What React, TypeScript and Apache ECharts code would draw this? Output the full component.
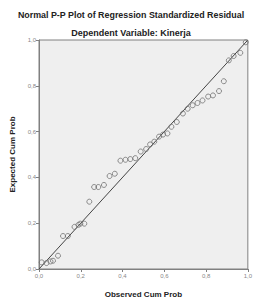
import React, { useEffect, useRef } from "react";
import * as echarts from "echarts";

const titleText = "Normal P-P Plot of Regression Standardized Residual";
const subtitleText = "Dependent Variable: Kinerja";
const xAxisName = "Observed Cum Prob";
const yAxisName = "Expected Cum Prob";
const tickValues = [0, 0.2, 0.4, 0.6, 0.8, 1.0];

const observedCumProb = [
  0.013, 0.036, 0.055, 0.067, 0.091, 0.115, 0.138, 0.17, 0.189, 0.198, 0.217,
  0.241, 0.264, 0.284, 0.311, 0.338, 0.363, 0.39, 0.414, 0.437, 0.461, 0.487,
  0.513, 0.532, 0.552, 0.575, 0.594, 0.615, 0.634, 0.66, 0.689, 0.712, 0.736,
  0.759, 0.783, 0.81, 0.833, 0.862, 0.885, 0.909, 0.932, 0.964, 0.99,
];
const expectedCumProb = [
  0.029, 0.026, 0.033, 0.036, 0.058, 0.144, 0.144, 0.184, 0.193, 0.198, 0.198,
  0.294, 0.358, 0.358, 0.367, 0.406, 0.416, 0.473, 0.477, 0.48, 0.484, 0.513,
  0.524, 0.544, 0.556, 0.578, 0.587, 0.592, 0.621, 0.642, 0.679, 0.7, 0.715,
  0.725, 0.736, 0.753, 0.758, 0.777, 0.82, 0.911, 0.93, 0.944, 0.99,
];
const referenceLine = [
  [0, 0],
  [1, 1],
];

const fmt = (v: number) => v.toFixed(1).replace(".", ",");

export default function App() {
  const ref = useRef<HTMLDivElement>(null);
  useEffect(() => {
    if (!ref.current) return;
    const chart = echarts.init(ref.current, undefined, { renderer: "svg" });
    const font = "Liberation Sans, Arial, sans-serif";
    const headStyle = {
      fontWeight: "bold",
      fill: "#222",
      fontFamily: font,
      align: "center",
      verticalAlign: "middle",
    };
    chart.setOption({
      animation: false,
      backgroundColor: "#ffffff",
      graphic: [
        { type: "text", x: 131, y: 15, style: { ...headStyle, fontSize: 8.9, text: titleText } },
        { type: "text", x: 131, y: 33, style: { ...headStyle, fontSize: 9, text: subtitleText } },
      ],
      grid: {
        left: 39,
        top: 40,
        width: 212,
        height: 232.7,
        show: true,
        backgroundColor: "#efefef",
        borderColor: "#808080",
        borderWidth: 1,
      },
      xAxis: {
        type: "value",
        min: 0,
        max: 1,
        interval: 0.2,
        name: xAxisName,
        nameLocation: "middle",
        nameGap: 21,
        nameTextStyle: { fontSize: 8, fontWeight: "bold", color: "#222", fontFamily: font },
        axisLine: { show: true, lineStyle: { color: "#808080", width: 1 } },
        axisTick: { show: true, length: 3, lineStyle: { color: "#808080" } },
        axisLabel: {
          fontSize: 6,
          color: "#888",
          margin: 4,
          fontFamily: font,
          formatter: (v: number) => (tickValues.some((t) => Math.abs(t - v) < 1e-9) ? fmt(v) : ""),
        },
        splitLine: { show: false },
      },
      yAxis: {
        type: "value",
        min: 0,
        max: 1,
        interval: 0.2,
        name: yAxisName,
        nameLocation: "middle",
        nameGap: 14,
        nameTextStyle: { fontSize: 8, fontWeight: "bold", color: "#222", fontFamily: font },
        axisLine: { show: true, lineStyle: { color: "#808080", width: 1 } },
        axisTick: { show: true, length: 3, lineStyle: { color: "#808080" } },
        axisLabel: {
          fontSize: 6,
          color: "#888",
          margin: 3,
          fontFamily: font,
          formatter: (v: number) => fmt(v),
        },
        splitLine: { show: false },
      },
      series: [
        {
          type: "line",
          data: referenceLine,
          symbol: "none",
          lineStyle: { color: "#444", width: 1 },
          silent: true,
          z: 2,
        },
        {
          type: "scatter",
          data: observedCumProb.map((x, i) => [x, expectedCumProb[i]]),
          symbol: "circle",
          symbolSize: 5,
          itemStyle: { color: "rgba(0,0,0,0)", borderColor: "#707070", borderWidth: 1 },
          z: 3,
        },
      ],
    });
    return () => chart.dispose();
  }, []);
  return (
    <div
      ref={ref}
      style={{ position: "absolute", left: 0, top: 0, width: 255, height: 303 }}
    />
  );
}
